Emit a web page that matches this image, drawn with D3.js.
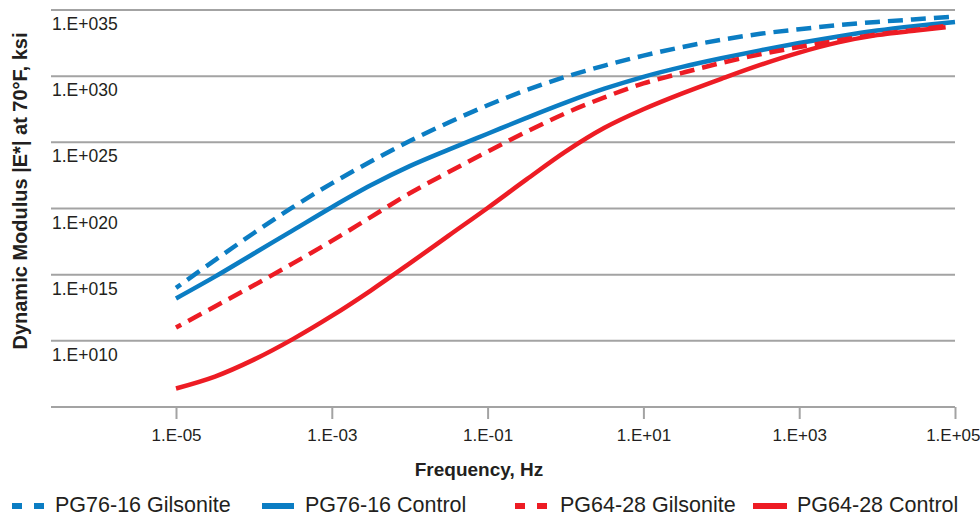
<!DOCTYPE html>
<html><head><meta charset="utf-8">
<script src="https://cdn.jsdelivr.net/npm/d3@7"></script>
<style>
html,body{margin:0;padding:0;background:#fff;}
svg text{font-family:"Liberation Sans",Arial,Helvetica,sans-serif;fill:#231f20;}
</style></head>
<body>
<svg id="chart" width="980" height="516"></svg>
<script>
// ---- data (exponents) ----
const freqExp = [-5,-4.5,-4,-3.5,-3,-2.5,-2,-1.5,-1,-0.5,0,0.5,1,1.5,2,2.5,3,3.5,4,4.5,5];
const freqExpRed = [-5,-4.5,-4,-3.5,-3,-2.5,-2,-1.5,-1,-0.5,0,0.5,1,1.5,2,2.5,3,3.5,4,4.5,4.88];
const pg7616Gilsonite = [14.0,16.1,18.15,20.1,21.9,23.55,25.1,26.5,27.8,28.95,29.95,30.8,31.55,32.2,32.75,33.2,33.55,33.85,34.1,34.3,34.5];
const pg7616Control   = [13.2,14.85,16.6,18.35,20.1,21.75,23.2,24.45,25.65,26.85,28.0,29.05,29.95,30.7,31.35,31.95,32.5,33.0,33.45,33.8,34.1];
const pg6428Gilsonite = [11.0,12.6,14.2,15.85,17.55,19.35,21.15,22.75,24.3,25.8,27.2,28.4,29.45,30.25,31.0,31.65,32.2,32.7,33.15,33.5,33.8];
const pg6428Control   = [6.4,7.3,8.58,10.13,11.88,13.8,15.85,17.95,20.04,22.2,24.3,26.1,27.5,28.7,29.8,30.85,31.78,32.55,33.1,33.45,33.7];
const seriesNames = ["PG76-16 Gilsonite","PG76-16 Control","PG64-28 Gilsonite","PG64-28 Control"];
const xTickExp = [-5,-3,-1,1,3,5];
const xTickLabels = ["1.E-05","1.E-03","1.E-01","1.E+01","1.E+03","1.E+05"];
const yTickExp = [10,15,20,25,30,35];
const yTickLabels = ["1.E+010","1.E+015","1.E+020","1.E+025","1.E+030","1.E+035"];

const BLUE = "#0b7dc3", RED = "#ed1c24";
const series = [
  {name:seriesNames[0], xs:freqExp,    ys:pg7616Gilsonite, color:BLUE, dash:true},
  {name:seriesNames[1], xs:freqExp,    ys:pg7616Control,   color:BLUE, dash:false},
  {name:seriesNames[2], xs:freqExpRed, ys:pg6428Gilsonite, color:RED,  dash:true},
  {name:seriesNames[3], xs:freqExpRed, ys:pg6428Control,   color:RED,  dash:false}
];

const svg = d3.select("#chart");
const x = d3.scaleLog().domain([1e-5,1e5]).range([176,955]);
const y = d3.scaleLog().domain([1e5,1e35]).range([407,10]);
const plotLeft = 51, plotRight = 955;

// gridlines
svg.append("g").selectAll("line").data(yTickExp).join("line")
  .attr("x1",plotLeft).attr("x2",plotRight)
  .attr("y1",d=>y(Math.pow(10,d))).attr("y2",d=>y(Math.pow(10,d)))
  .attr("stroke","#a3a3a3").attr("stroke-width",2);

// y labels (placed below each gridline, as in the reference)
svg.append("g").selectAll("text").data(yTickExp).join("text")
  .attr("x",52).attr("y",d=>y(Math.pow(10,d))+20)
  .attr("font-size","17.5px")
  .text((d,i)=>yTickLabels[i]);

// x axis
const xAxis = d3.axisBottom(x).tickValues(xTickExp.map(e=>Math.pow(10,e)))
  .tickSize(12).tickSizeOuter(0).tickPadding(10)
  .tickFormat((d,i)=>xTickLabels[i]);
const gx = svg.append("g").attr("transform","translate(0,407)").call(xAxis);
gx.select(".domain").remove();
gx.selectAll(".tick line").attr("stroke","#a3a3a3").attr("stroke-width",2);
gx.selectAll(".tick text").attr("font-size","17px").attr("fill","#231f20")
  .attr("font-family","Liberation Sans, Arial, sans-serif");
gx.selectAll(".tick text").filter((d,i)=>i===xTickExp.length-1).attr("text-anchor","end").attr("x",25);
gx.append("line").attr("x1",plotLeft).attr("x2",plotRight).attr("y1",0).attr("y2",0)
  .attr("stroke","#a3a3a3").attr("stroke-width",2);

// lines
const line = d3.line().curve(d3.curveCatmullRom.alpha(0.5))
  .x(d=>x(Math.pow(10,d[0]))).y(d=>y(Math.pow(10,d[1])));
svg.append("g").selectAll("path").data(series).join("path")
  .attr("d",s=>line(s.xs.map((v,i)=>[v,s.ys[i]])))
  .attr("fill","none").attr("stroke",s=>s.color).attr("stroke-width",4.5)
  .attr("stroke-dasharray",s=>s.dash?"15,8":null)
  .attr("stroke-dashoffset",s=>s.dash?9:null);

// axis titles
svg.append("text").attr("x",479).attr("y",476).attr("text-anchor","middle")
  .attr("font-size","19px").attr("font-weight","bold").text("Frequency, Hz");
svg.append("text").attr("transform","translate(27,191) rotate(-90)").attr("text-anchor","middle")
  .attr("font-size","20px").attr("font-weight","bold").text("Dynamic Modulus |E*| at 70°F, ksi");

// legend
const legendPos = [{x1:12,x2:44,tx:55},{x1:262,x2:294,tx:305},{x1:515,x2:548,tx:560},{x1:753,x2:787,tx:797}];
const lg = svg.append("g");
series.forEach((s,i)=>{
  const p = legendPos[i];
  lg.append("line").attr("x1",p.x1).attr("x2",p.x2).attr("y1",506).attr("y2",506)
    .attr("stroke",s.color).attr("stroke-width",6)
    .attr("stroke-dasharray",s.dash?"10,12":null);
  lg.append("text").attr("x",p.tx).attr("y",512).attr("font-size","21.5px").text(s.name);
});
</script>
</body></html>
